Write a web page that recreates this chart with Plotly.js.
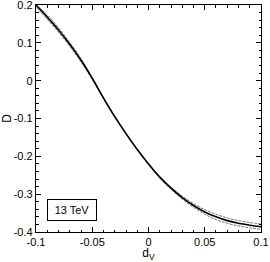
<!DOCTYPE html>
<html>
<head>
<meta charset="utf-8">
<script src="https://cdn.plot.ly/plotly-3.0.1.min.js"></script>
<style>html,body{margin:0;padding:0;background:#fff;}#chart{width:270px;height:262px;}</style>
</head>
<body>
<div id="chart"></div>
<script>
var dV = [-0.1, -0.09, -0.08, -0.07, -0.06, -0.05, -0.04, -0.03, -0.02, -0.01, 0, 0.01, 0.02, 0.03, 0.04, 0.05, 0.06, 0.07, 0.08, 0.09, 0.1];
var Dcentral = [0.200, 0.168, 0.134, 0.096, 0.054, 0.006, -0.046, -0.095, -0.140, -0.182, -0.220, -0.255, -0.284, -0.309, -0.330, -0.347, -0.360, -0.370, -0.377, -0.382, -0.386];
var Dupper = [0.200, 0.174, 0.140, 0.101, 0.058, 0.009, -0.044, -0.093, -0.139, -0.181, -0.219, -0.253, -0.281, -0.305, -0.325, -0.341, -0.353, -0.363, -0.370, -0.375, -0.379];
var Dlower = [0.194, 0.162, 0.128, 0.091, 0.050, 0.003, -0.048, -0.097, -0.141, -0.183, -0.221, -0.257, -0.287, -0.313, -0.335, -0.353, -0.367, -0.377, -0.384, -0.389, -0.393];
var xTickVals = [-0.1, -0.05, 0, 0.05, 0.1];
var xTickText = ["-0.1", "-0.05", "0", "0.05", "0.1"];
var yTickVals = [-0.4, -0.3, -0.2, -0.1, 0, 0.1, 0.2];
var yTickText = ["-0.4", "-0.3", "-0.2", "-0.1", "0", "0.1", "0.2"];
var energyLabel = "13 TeV";

var traces = [
  {x: dV, y: Dupper, mode: 'lines', line: {color: '#555', width: 0.8, dash: '3px,1px', shape: 'spline'}, hoverinfo: 'skip'},
  {x: dV, y: Dlower, mode: 'lines', line: {color: '#555', width: 0.8, dash: '3px,1px', shape: 'spline'}, hoverinfo: 'skip'},
  {x: dV, y: Dcentral, mode: 'lines', line: {color: '#000', width: 1.6, shape: 'spline'}, hoverinfo: 'skip'}
];

var fontFam = 'Liberation Sans, Arial, sans-serif';
var axisCommon = {
  showline: true, linecolor: '#000', linewidth: 1.2, mirror: 'allticks',
  ticks: 'inside', ticklen: 5, tickwidth: 1, tickcolor: '#000',
  showgrid: false, zeroline: false, tickmode: 'array', ticklabeloverflow: 'allow',
  tickfont: {family: fontFam, size: 11, color: '#000'}
};

var layout = {
  width: 270, height: 262,
  margin: {l: 36, r: 9, t: 5, b: 30},
  showlegend: false,
  paper_bgcolor: '#fff', plot_bgcolor: '#fff',
  xaxis: Object.assign({}, axisCommon, {
    range: [-0.10001, 0.10001], tickvals: xTickVals, ticktext: xTickText,
    minor: {ticks: 'inside', ticklen: 2.5, tickcolor: '#000', dtick: 0.01, showgrid: false},
    title: {text: 'd<sub>V</sub>', standoff: 0, font: {family: fontFam, size: 12, color: '#000'}}
  }),
  yaxis: Object.assign({}, axisCommon, {
    range: [-0.40002, 0.20002], tickvals: yTickVals, ticktext: yTickText,
    minor: {ticks: 'inside', ticklen: 2.5, tickcolor: '#000', dtick: 0.02, showgrid: false},
    title: {text: 'D', standoff: 8, font: {family: fontFam, size: 12, color: '#000'}}
  }),
  annotations: [{
    xref: 'x', yref: 'y', x: -0.068, y: -0.3423, xanchor: 'center', yanchor: 'middle',
    text: energyLabel, showarrow: false, width: 42, height: 14,
    font: {family: fontFam, size: 11, color: '#000'},
    bordercolor: '#000', borderwidth: 1, borderpad: 3, bgcolor: '#fff'
  }]
};

Plotly.newPlot('chart', traces, layout, {staticPlot: true, displayModeBar: false});
</script>
</body>
</html>
